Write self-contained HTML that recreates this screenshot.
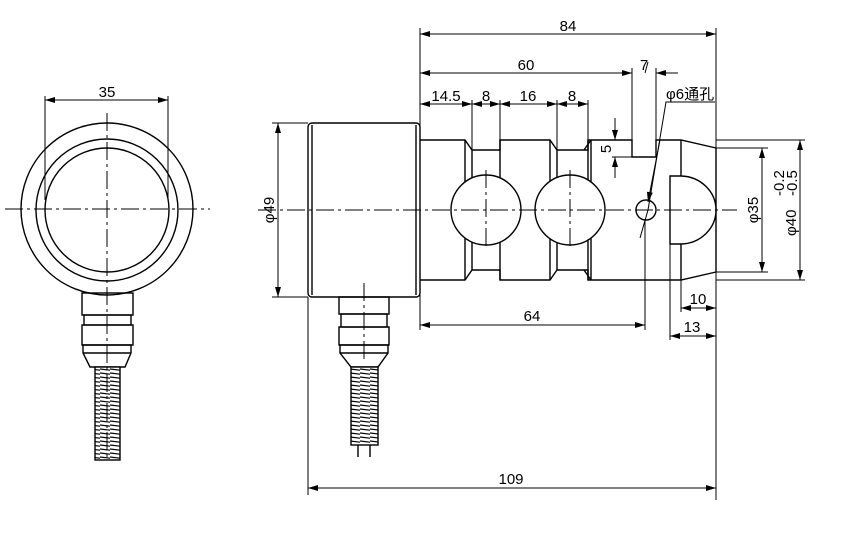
<!DOCTYPE html>
<html><head><meta charset="utf-8"><style>
html,body{margin:0;padding:0;background:#fff;}
svg{display:block;}
text{font-family:"Liberation Sans","Noto Sans CJK SC",sans-serif;font-size:15px;fill:#000;}
</style></head><body>
<svg width="851" height="535" viewBox="0 0 851 535" xmlns="http://www.w3.org/2000/svg">
<defs>
<marker id="a" viewBox="0 0 10 6" refX="10" refY="3" markerWidth="10" markerHeight="6" orient="auto-start-reverse" markerUnits="userSpaceOnUse"><path d="M0,0 L10,3 L0,6 z" fill="#000"/></marker>
<pattern id="coil" width="10" height="4" patternUnits="userSpaceOnUse"><rect width="10" height="4" fill="#fff"/><line x1="0" y1="1" x2="10" y2="2.2" stroke="#000" stroke-width="1.2"/></pattern>
</defs>
<g fill="none" stroke="#000" stroke-width="1.4">
<circle cx="107" cy="209" r="86"/>
<circle cx="107" cy="210" r="71"/>
<circle cx="107" cy="210" r="62"/>
<rect x="82" y="293" width="51" height="22"/>
<rect x="84" y="315" width="47" height="10"/>
<rect x="82" y="325" width="51" height="20"/>
<path d="M83,345 L131,345 L131,353 L125,367 L90,367 L83,353 Z"/>
<line x1="83" y1="353" x2="131" y2="353"/>
<rect x="95" y="367" width="25" height="93" fill="url(#coil)"/>
<rect x="308" y="123" width="112" height="174" rx="4"/>
<line x1="312" y1="125" x2="312" y2="295"/>
<line x1="416" y1="125" x2="416" y2="295"/>
<path d="M420,140 L465,140 L472,150 L500,150 L500,140 L550,140 L557,150 L588,150 L588,140 L632,140 L632,157 L656,157 L656,140 L681,140 L716,148 L716,272 L681,280 L656,280 L588,280 L588,270 L557,270 L550,280 L500,280 L500,270 L472,270 L465,280 L420,280"/>
<line x1="465" y1="140" x2="465" y2="280"/>
<line x1="472" y1="150" x2="472" y2="270"/>
<line x1="500" y1="140" x2="500" y2="280"/>
<line x1="550" y1="140" x2="550" y2="280"/>
<line x1="557" y1="150" x2="557" y2="270"/>
<line x1="588" y1="140" x2="588" y2="280"/>
<line x1="591" y1="140" x2="591" y2="280"/>
<path d="M584,150 L591,140 M584,270 L591,280"/>
<line x1="681" y1="140" x2="681" y2="176"/>
<line x1="681" y1="244" x2="681" y2="280"/>
<path d="M670,244 L670,176 L681,176 A36,34 0 0 1 716,210 A36,34 0 0 1 681,244 Z" fill="#fff"/>
<circle cx="486" cy="210" r="35" fill="#fff"/>
<circle cx="570" cy="210" r="35" fill="#fff"/>
<circle cx="646" cy="210" r="10"/>
<rect x="339" y="297" width="50" height="17"/>
<rect x="341" y="314" width="46" height="13"/>
<rect x="339" y="327" width="50" height="18"/>
<path d="M340,345 L388,345 L388,353 L378,367 L351,367 L340,353 Z"/>
<line x1="340" y1="353" x2="388" y2="353"/>
<rect x="351" y="367" width="27" height="78" fill="url(#coil)"/>
<path d="M358,445 L358,457 M370,445 L370,457"/>
</g>
<g stroke="#000" stroke-width="1" stroke-dasharray="18,4,3,4" fill="none">
<line x1="5" y1="209" x2="210" y2="209"/>
<line x1="107" y1="113" x2="107" y2="460"/>
<line x1="258" y1="210" x2="737" y2="210"/>
<line x1="486" y1="170" x2="486" y2="250"/>
<line x1="570" y1="170" x2="570" y2="250"/>
<line x1="364" y1="283" x2="364" y2="360"/>
</g>
<g stroke="#000" stroke-width="1" fill="none">
<line x1="45" y1="96" x2="45" y2="200"/><line x1="168" y1="96" x2="168" y2="200"/>
<line x1="45" y1="100" x2="168" y2="100" marker-start="url(#a)" marker-end="url(#a)"/>
<line x1="420" y1="28" x2="420" y2="330"/><line x1="716" y1="28" x2="716" y2="500"/>
<line x1="420" y1="34" x2="716" y2="34" marker-start="url(#a)" marker-end="url(#a)"/>
<line x1="632" y1="68" x2="632" y2="140"/><line x1="656" y1="68" x2="656" y2="140"/>
<line x1="420" y1="73" x2="632" y2="73" marker-start="url(#a)" marker-end="url(#a)"/>
<line x1="656" y1="73" x2="678" y2="73" marker-start="url(#a)"/>
<line x1="645" y1="73" x2="648" y2="62"/>
<line x1="472" y1="100" x2="472" y2="150"/><line x1="500" y1="100" x2="500" y2="140"/>
<line x1="557" y1="100" x2="557" y2="150"/><line x1="588" y1="100" x2="588" y2="140"/>
<line x1="420" y1="104" x2="472" y2="104" marker-start="url(#a)" marker-end="url(#a)"/>
<line x1="472" y1="104" x2="500" y2="104" marker-start="url(#a)" marker-end="url(#a)"/>
<line x1="500" y1="104" x2="557" y2="104" marker-start="url(#a)" marker-end="url(#a)"/>
<line x1="557" y1="104" x2="588" y2="104" marker-start="url(#a)" marker-end="url(#a)"/>
<line x1="612" y1="157" x2="632" y2="157"/>
<line x1="615" y1="118" x2="615" y2="140" marker-end="url(#a)"/>
<line x1="615" y1="178" x2="615" y2="157" marker-end="url(#a)"/>
<path d="M715,102 L666,102 L648,210 L640,238"/>
<line x1="660" y1="140" x2="648" y2="202" marker-end="url(#a)"/>
<line x1="272" y1="123" x2="308" y2="123"/><line x1="272" y1="297" x2="308" y2="297"/>
<line x1="278" y1="123" x2="278" y2="297" marker-start="url(#a)" marker-end="url(#a)"/>
<line x1="716" y1="148" x2="768" y2="148"/><line x1="716" y1="272" x2="768" y2="272"/>
<line x1="762" y1="148" x2="762" y2="272" marker-start="url(#a)" marker-end="url(#a)"/>
<line x1="716" y1="140" x2="805" y2="140"/><line x1="716" y1="280" x2="805" y2="280"/>
<line x1="800" y1="140" x2="800" y2="280" marker-start="url(#a)" marker-end="url(#a)"/>
<line x1="681" y1="280" x2="681" y2="312"/>
<line x1="681" y1="308" x2="716" y2="308" marker-start="url(#a)" marker-end="url(#a)"/>
<line x1="670" y1="244" x2="670" y2="340"/>
<line x1="670" y1="336" x2="716" y2="336" marker-start="url(#a)" marker-end="url(#a)"/>
<line x1="645" y1="220" x2="645" y2="330"/>
<line x1="420" y1="325" x2="645" y2="325" marker-start="url(#a)" marker-end="url(#a)"/>
<line x1="308" y1="297" x2="308" y2="495"/>
<line x1="308" y1="488" x2="716" y2="488" marker-start="url(#a)" marker-end="url(#a)"/>
</g>
<g>
<text x="107" y="97" text-anchor="middle">35</text>
<text x="568" y="31" text-anchor="middle">84</text>
<text x="526" y="70" text-anchor="middle">60</text>
<text x="644" y="70" text-anchor="middle">7</text>
<text x="666" y="99">φ6通孔</text>
<text x="446" y="101" text-anchor="middle">14.5</text>
<text x="486" y="101" text-anchor="middle">8</text>
<text x="528" y="101" text-anchor="middle">16</text>
<text x="572" y="101" text-anchor="middle">8</text>
<text transform="translate(611,149) rotate(-90)" text-anchor="middle">5</text>
<text transform="translate(274,210) rotate(-90)" text-anchor="middle">φ49</text>
<text transform="translate(758,210) rotate(-90)" text-anchor="middle">φ35</text>
<text transform="translate(796,236) rotate(-90)">φ40</text>
<text transform="translate(784,196) rotate(-90)" font-size="11">-0.2</text>
<text transform="translate(797,196) rotate(-90)" font-size="11">-0.5</text>
<text x="698" y="304" text-anchor="middle">10</text>
<text x="692" y="332" text-anchor="middle">13</text>
<text x="532" y="321" text-anchor="middle">64</text>
<text x="511" y="484" text-anchor="middle">109</text>
</g>
</svg>
</body></html>
